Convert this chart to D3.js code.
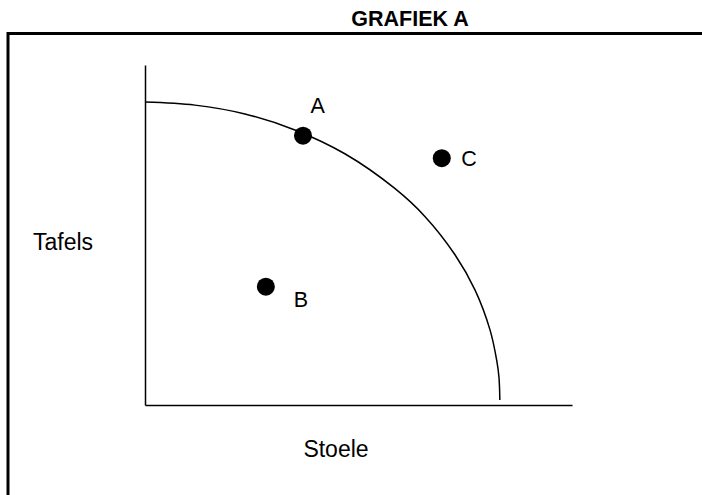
<!DOCTYPE html>
<html>
<head>
<meta charset="utf-8">
<script src="https://cdn.jsdelivr.net/npm/d3@7"></script>
<style>
  html, body { margin: 0; padding: 0; background: #fff; }
  svg { display: block; font-family: "Liberation Sans", Arial, sans-serif; }
</style>
</head>
<body>
<svg id="chart" width="702" height="495"></svg>
<script>
// ---- data ----
const title = "GRAFIEK A";
const xLabel = "Stoele";
const yLabel = "Tafels";
const pointNames = ["A", "B", "C"];
const pointX = [37.0, 28.3, 69.5];
const pointY = [79.2, 34.8, 72.6];
// production possibility curve
const curveX = [0, 11.7, 23.4, 35.1, 46.8, 58.5, 65.6, 72.6, 77.3, 80.8, 82.4, 82.9, 83.1];
const curveY = [89.1, 88.2, 85.6, 80.9, 73.9, 63.7, 55.4, 44.2, 33.8, 22.1, 12.9, 8.1, 1.5];

// ---- layout ----
const svg = d3.select("#chart");
const x = d3.scaleLinear().domain([0, 100]).range([145, 572]);
const y = d3.scaleLinear().domain([0, 100]).range([405, 65]);

// frame (top + left border)
svg.append("path")
  .attr("d", "M8,495 L8,33.5 L702,33.5")
  .attr("fill", "none").attr("stroke", "#000").attr("stroke-width", 3);

// title
svg.append("text").attr("x", 410).attr("y", 26)
  .attr("text-anchor", "middle").attr("font-weight", "bold")
  .attr("font-size", 21.5).text(title);

// axes
const xAxis = d3.axisBottom(x).ticks(0).tickSize(0).tickSizeOuter(0).tickFormat("");
const yAxis = d3.axisLeft(y).ticks(0).tickSize(0).tickSizeOuter(0).tickFormat("");
svg.append("g").attr("transform", `translate(0,${y(0)})`).call(xAxis)
  .select(".domain").attr("stroke-width", 1.5);
svg.append("g").attr("transform", `translate(${x(0)},0)`).call(yAxis)
  .select(".domain").attr("stroke-width", 1.5);

// curve
const curvePts = curveX.map((d, i) => [d, curveY[i]]);
svg.append("path").datum(curvePts)
  .attr("d", d3.line().x(d => x(d[0])).y(d => y(d[1])).curve(d3.curveCatmullRom))
  .attr("fill", "none").attr("stroke", "#000").attr("stroke-width", 1.5);

// points
const pts = pointNames.map((n, i) => ({ n, x: pointX[i], y: pointY[i] }));
svg.selectAll("circle.pt").data(pts).join("circle").attr("class", "pt")
  .attr("cx", d => x(d.x)).attr("cy", d => y(d.y)).attr("r", 9).attr("fill", "#000");

const labelOffsets = { A: [7.5, -23], B: [28, 20], C: [19.5, 7.5] };
svg.selectAll("text.pl").data(pts).join("text").attr("class", "pl")
  .attr("x", d => x(d.x) + labelOffsets[d.n][0])
  .attr("y", d => y(d.y) + labelOffsets[d.n][1])
  .attr("font-size", 21.5).text(d => d.n);

// axis titles
svg.append("text").attr("x", 63).attr("y", 250).attr("text-anchor", "middle")
  .attr("font-size", 23).text(yLabel);
svg.append("text").attr("x", 336).attr("y", 457).attr("text-anchor", "middle")
  .attr("font-size", 23).text(xLabel);
</script>
</body>
</html>
